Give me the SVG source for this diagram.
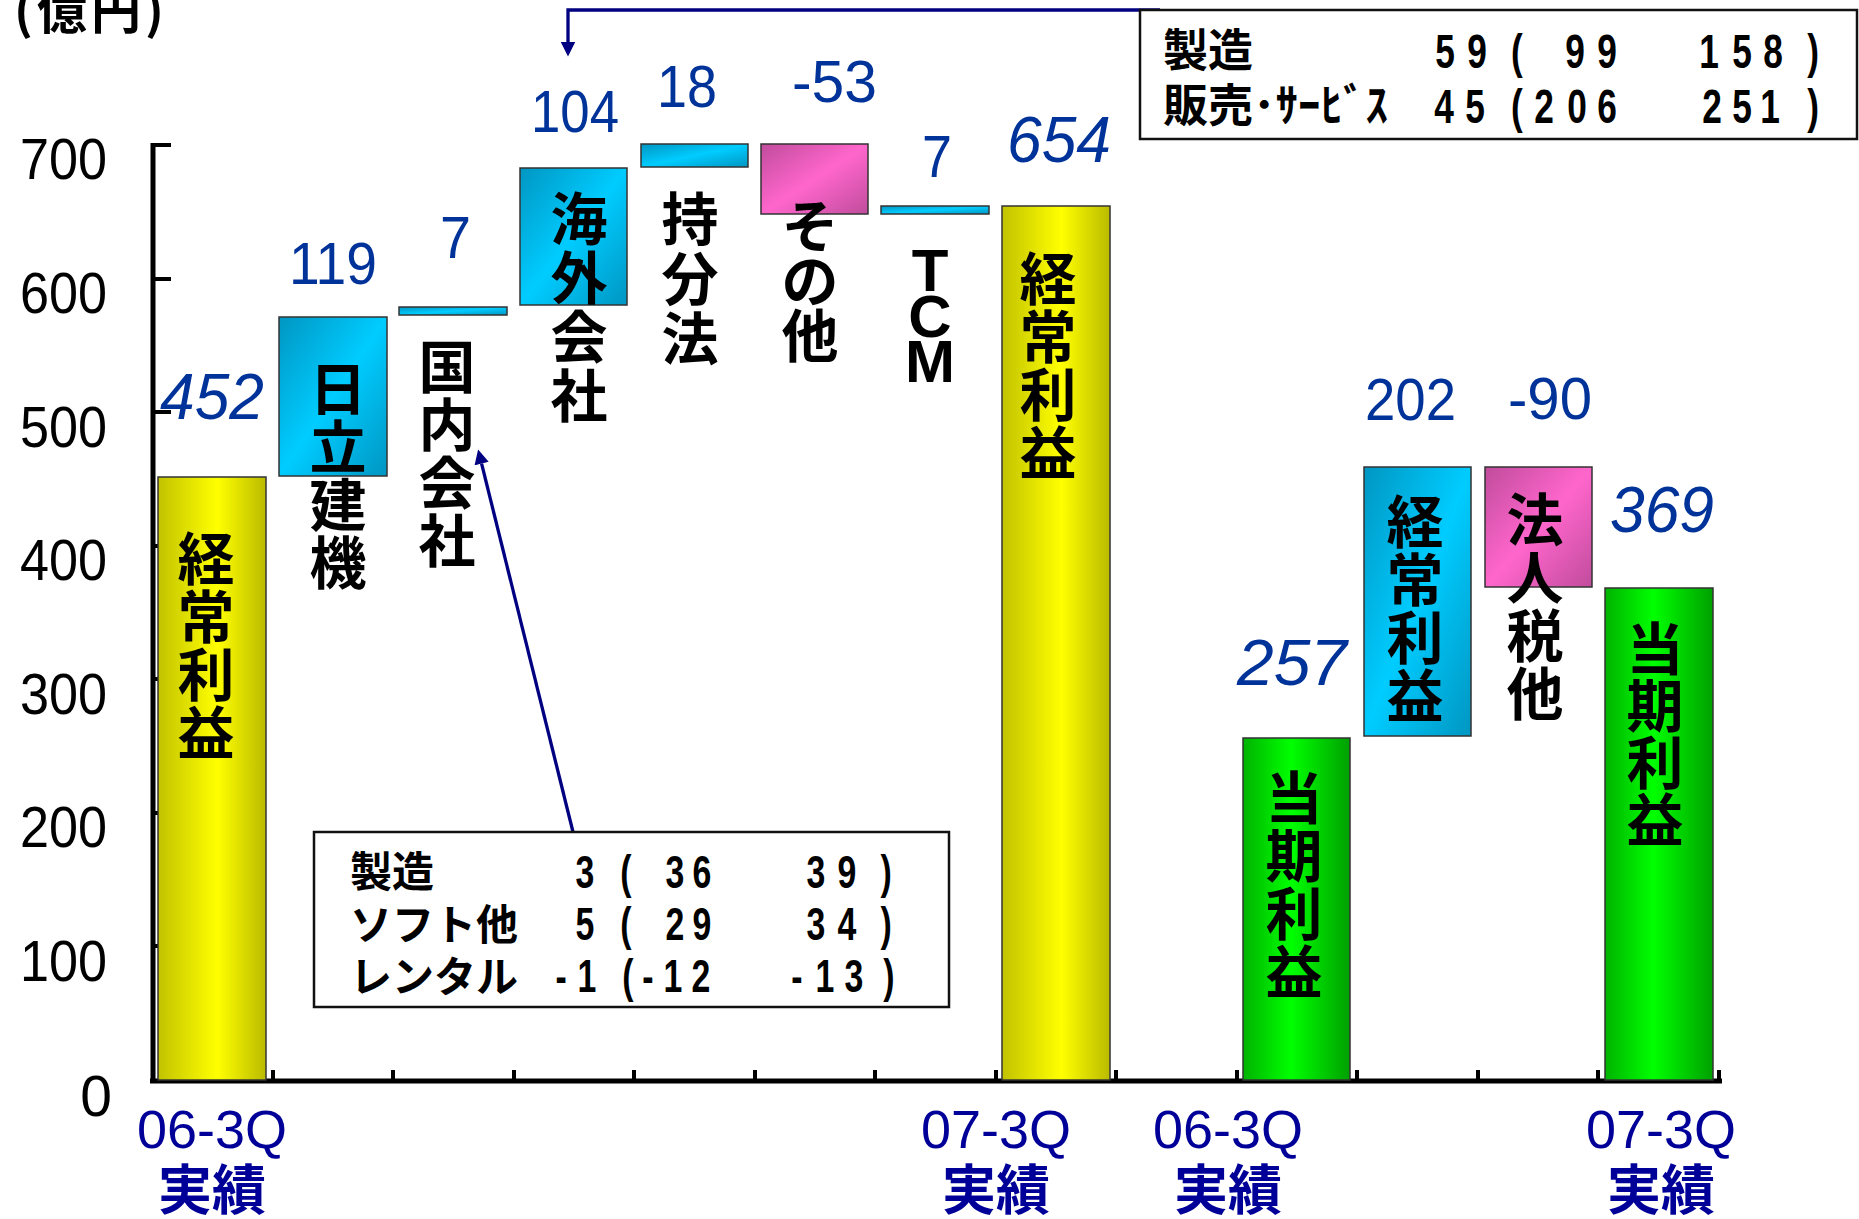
<svg xmlns="http://www.w3.org/2000/svg" width="1859" height="1219" viewBox="0 0 1859 1219">
<style>
.num{font-family:"Liberation Sans",Arial,sans-serif;fill:#003399;font-size:60px}
.it{font-family:"Liberation Sans",Arial,sans-serif;fill:#003399;font-size:64px;font-style:italic}
.ax{font-family:"Liberation Sans",Arial,sans-serif;fill:#000;font-size:57px;text-anchor:end}
.vl{font-family:"Noto Sans CJK JP",sans-serif;font-weight:bold;font-size:57px;fill:#000;text-anchor:middle}
.lat{font-family:"Liberation Sans",Arial,sans-serif;font-weight:bold;font-size:60px;fill:#000;text-anchor:middle}
.xl{font-family:"Liberation Sans",Arial,sans-serif;fill:#000099;font-size:54px;text-anchor:middle}
.xk{font-family:"Noto Sans CJK JP",sans-serif;font-weight:bold;fill:#000099;font-size:54px;text-anchor:middle}
.tk{font-family:"Noto Sans CJK JP",sans-serif;font-weight:bold;fill:#000}
.td{font-family:"Liberation Sans",Arial,sans-serif;font-weight:bold;fill:#000;text-anchor:middle}
.bar{stroke:#333;stroke-width:1.5}
.axis{stroke:#000;stroke-width:5;fill:none}
.tick{stroke:#000;stroke-width:4}
.conn{stroke:#000080;stroke-width:3.3;fill:none}
.box{fill:#fff;stroke:#111;stroke-width:2.5}
</style>
<defs>
<linearGradient id="gY" x1="0" y1="0" x2="1" y2="0"><stop offset="0" stop-color="#C2C200"/><stop offset="0.55" stop-color="#FFFF00"/><stop offset="1" stop-color="#BABA00"/></linearGradient>
<linearGradient id="gG" x1="0" y1="0" x2="1" y2="0"><stop offset="0" stop-color="#00B300"/><stop offset="0.45" stop-color="#00FF00"/><stop offset="1" stop-color="#00A000"/></linearGradient>
<linearGradient id="gC" x1="0" y1="0" x2="1" y2="1"><stop offset="0" stop-color="#0096C2"/><stop offset="0.5" stop-color="#00CCFF"/><stop offset="1" stop-color="#0096C2"/></linearGradient>
<linearGradient id="gP" x1="0" y1="0" x2="1" y2="1"><stop offset="0" stop-color="#C04C9C"/><stop offset="0.5" stop-color="#FF66CC"/><stop offset="1" stop-color="#C04C9C"/></linearGradient>
<marker id="arr" viewBox="0 0 10 10" refX="0" refY="5" markerWidth="4.6" markerHeight="4.4" orient="auto" markerUnits="strokeWidth"><path d="M0,0 L10,5 L0,10 z" fill="#000080"/></marker>
</defs>
<rect width="1859" height="1219" fill="#fff"/>

<text id="unit" x="14" y="29" class="tk" font-size="50" letter-spacing="4">(億円)</text>

<g id="axes">
<line class="axis" x1="153" y1="143" x2="153" y2="1083"/>
<line class="axis" x1="150" y1="1081" x2="1722" y2="1081"/>
<g class="tick">
<line x1="153" y1="145" x2="171" y2="145"/><line x1="153" y1="279" x2="171" y2="279"/><line x1="153" y1="412" x2="171" y2="412"/><line x1="153" y1="546" x2="171" y2="546"/><line x1="153" y1="679" x2="171" y2="679"/><line x1="153" y1="813" x2="171" y2="813"/><line x1="153" y1="946" x2="171" y2="946"/>
<line x1="273" y1="1070" x2="273" y2="1081"/><line x1="393" y1="1070" x2="393" y2="1081"/><line x1="514" y1="1070" x2="514" y2="1081"/><line x1="634" y1="1070" x2="634" y2="1081"/><line x1="755" y1="1070" x2="755" y2="1081"/><line x1="875" y1="1070" x2="875" y2="1081"/><line x1="996" y1="1070" x2="996" y2="1081"/><line x1="1116" y1="1070" x2="1116" y2="1081"/><line x1="1237" y1="1070" x2="1237" y2="1081"/><line x1="1357" y1="1070" x2="1357" y2="1081"/><line x1="1478" y1="1070" x2="1478" y2="1081"/><line x1="1598" y1="1070" x2="1598" y2="1081"/><line x1="1719" y1="1070" x2="1719" y2="1081"/>
</g>
<text class="ax" x="107" y="179" textLength="87" lengthAdjust="spacingAndGlyphs">700</text>
<text class="ax" x="107" y="313" textLength="87" lengthAdjust="spacingAndGlyphs">600</text>
<text class="ax" x="107" y="447" textLength="87" lengthAdjust="spacingAndGlyphs">500</text>
<text class="ax" x="107" y="580" textLength="87" lengthAdjust="spacingAndGlyphs">400</text>
<text class="ax" x="107" y="714" textLength="87" lengthAdjust="spacingAndGlyphs">300</text>
<text class="ax" x="107" y="847" textLength="87" lengthAdjust="spacingAndGlyphs">200</text>
<text class="ax" x="107" y="981" textLength="87" lengthAdjust="spacingAndGlyphs">100</text>
<text class="ax" x="112" y="1116">0</text>
</g>

<g id="bar1"><rect class="bar" x="158" y="477" width="108" height="603" fill="url(#gY)"/>
<text class="vl"><tspan x="206" y="580">経</tspan><tspan x="206" y="638">常</tspan><tspan x="206" y="696">利</tspan><tspan x="206" y="754">益</tspan></text>
<text class="it" x="160" y="419" textLength="104" lengthAdjust="spacingAndGlyphs">452</text></g>

<g id="bar2"><rect class="bar" x="279" y="317" width="108" height="159" fill="url(#gC)"/>
<text class="vl"><tspan x="338" y="410">日</tspan><tspan x="338" y="468">立</tspan><tspan x="338" y="526">建</tspan><tspan x="338" y="584">機</tspan></text>
<text class="num" x="289" y="284" textLength="88" lengthAdjust="spacingAndGlyphs">119</text></g>

<g id="bar3"><rect class="bar" x="399" y="307" width="108" height="8" fill="url(#gC)"/>
<text class="vl"><tspan x="447" y="388">国</tspan><tspan x="447" y="446">内</tspan><tspan x="447" y="504">会</tspan><tspan x="447" y="562">社</tspan></text>
<text class="num" x="440" y="258" textLength="31" lengthAdjust="spacingAndGlyphs">7</text></g>

<g id="bar4"><rect class="bar" x="520" y="168" width="107" height="137" fill="url(#gC)"/>
<text class="vl"><tspan x="579" y="240">海</tspan><tspan x="579" y="299">外</tspan><tspan x="579" y="358">会</tspan><tspan x="579" y="417">社</tspan></text>
<text class="num" x="531" y="132" textLength="88" lengthAdjust="spacingAndGlyphs">104</text></g>

<g id="bar5"><rect class="bar" x="641" y="144" width="107" height="23" fill="url(#gC)"/>
<text class="vl"><tspan x="690" y="240">持</tspan><tspan x="690" y="300">分</tspan><tspan x="690" y="360">法</tspan></text>
<text class="num" x="657" y="107" textLength="60" lengthAdjust="spacingAndGlyphs">18</text></g>

<g id="bar6"><rect class="bar" x="761" y="144" width="107" height="70" fill="url(#gP)"/>
<text class="vl"><tspan x="810" y="247">そ</tspan><tspan x="810" y="302">の</tspan><tspan x="810" y="357">他</tspan></text>
<text class="num" x="792" y="102" textLength="85" lengthAdjust="spacingAndGlyphs">-53</text></g>

<g id="bar7"><rect class="bar" x="881" y="206" width="108" height="8" fill="url(#gC)"/>
<text class="lat"><tspan x="930" y="291">T</tspan><tspan x="930" y="337">C</tspan><tspan x="930" y="382">M</tspan></text>
<text class="num" x="922" y="177" textLength="30" lengthAdjust="spacingAndGlyphs">7</text></g>

<g id="bar8"><rect class="bar" x="1002" y="206" width="108" height="874" fill="url(#gY)"/>
<text class="vl"><tspan x="1048" y="300">経</tspan><tspan x="1048" y="358">常</tspan><tspan x="1048" y="416">利</tspan><tspan x="1048" y="474">益</tspan></text>
<text class="it" x="1007" y="162" textLength="104" lengthAdjust="spacingAndGlyphs">654</text></g>

<g id="bar9"><rect class="bar" x="1243" y="738" width="107" height="342" fill="url(#gG)"/>
<text class="vl"><tspan x="1294" y="819">当</tspan><tspan x="1294" y="877">期</tspan><tspan x="1294" y="935">利</tspan><tspan x="1294" y="993">益</tspan></text>
<text class="it" x="1237" y="685" textLength="110" lengthAdjust="spacingAndGlyphs">257</text></g>

<g id="bar10"><rect class="bar" x="1364" y="467" width="107" height="269" fill="url(#gC)"/>
<text class="vl"><tspan x="1415" y="543">経</tspan><tspan x="1415" y="601">常</tspan><tspan x="1415" y="659">利</tspan><tspan x="1415" y="717">益</tspan></text>
<text class="num" x="1365" y="420" textLength="91" lengthAdjust="spacingAndGlyphs">202</text></g>

<g id="bar11"><rect class="bar" x="1485" y="467" width="107" height="120" fill="url(#gP)"/>
<text class="vl"><tspan x="1535" y="541">法</tspan><tspan x="1535" y="599">人</tspan><tspan x="1535" y="657">税</tspan><tspan x="1535" y="715">他</tspan></text>
<text class="num" x="1508" y="419" textLength="84" lengthAdjust="spacingAndGlyphs">-90</text></g>

<g id="bar12"><rect class="bar" x="1605" y="588" width="108" height="492" fill="url(#gG)"/>
<text class="vl"><tspan x="1655" y="670">当</tspan><tspan x="1655" y="727">期</tspan><tspan x="1655" y="784">利</tspan><tspan x="1655" y="841">益</tspan></text>
<text class="it" x="1610" y="532" textLength="104" lengthAdjust="spacingAndGlyphs">369</text></g>

<g id="xlabels">
<text class="xl" x="212" y="1148">06-3Q</text><text class="xk" x="212" y="1210">実績</text>
<text class="xl" x="996" y="1148">07-3Q</text><text class="xk" x="996" y="1210">実績</text>
<text class="xl" x="1228" y="1148">06-3Q</text><text class="xk" x="1228" y="1210">実績</text>
<text class="xl" x="1661" y="1148">07-3Q</text><text class="xk" x="1661" y="1210">実績</text>
</g>

<g id="connectors">
<path class="conn" d="M1160,10 H568 V42" marker-end="url(#arr)"/>
<path class="conn" d="M573,832 L481.6,463.6" marker-end="url(#arr)"/>
</g>

<g id="table-domestic">
<rect class="box" x="314" y="832" width="635" height="175"/>
<text class="tk" font-size="42" x="350" y="887">製造</text>
<text class="tk" font-size="42" x="350" y="940">ソフト他</text>
<text class="tk" font-size="42" x="350" y="992">レンタル</text>
<g transform="scale(0.72,1)">
<text class="td" font-size="47" y="888" x="812.5 869.4 937.5 975 1133.3 1176.4 1230.6">3(3639)</text>
<text class="td" font-size="47" y="940" x="812.5 869.4 937.5 975 1133.3 1176.4 1230.6">5(2934)</text>
<text class="td" font-size="47" y="992" x="779.2 815.3 872.2 900 934.7 973.6 1106.9 1145.8 1186.1 1234.7">-1(-12-13)</text>
</g>
</g>

<g id="table-overseas">
<rect class="box" x="1140" y="10" width="717" height="129"/>
<text class="tk" font-size="45" x="1163" y="67">製造</text>
<text class="tk" font-size="45" x="1163" y="122">販売･ｻｰﾋﾞｽ</text>
<g transform="scale(0.72,1)">
<text class="td" font-size="49" y="68" x="2006.9 2051.4 2106.9 2187.5 2231.9 2373.6 2419.4 2462.5 2518.1">59(99158)</text>
<text class="td" font-size="49" y="123" x="2005.6 2048.6 2106.9 2144.4 2190.3 2231.9 2377.8 2419.4 2458.3 2518.1">45(206251)</text>
</g>
</g>
</svg>
